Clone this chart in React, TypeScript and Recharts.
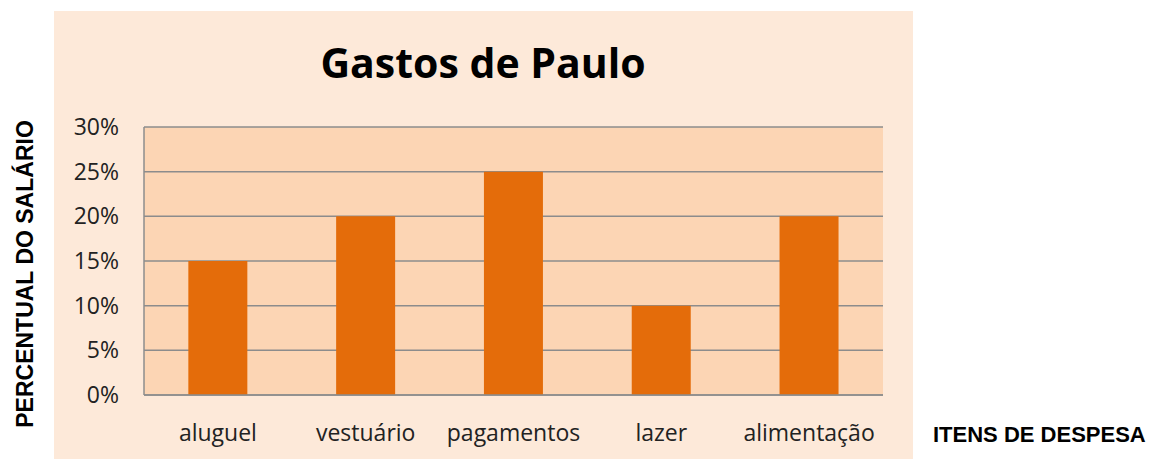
import { Bar, BarChart, CartesianGrid, XAxis, YAxis } from "recharts";

const categories = ["aluguel", "vestuário", "pagamentos", "lazer", "alimentação"];
const percentValues = [15, 20, 25, 10, 20];
const yTicks = [0, 5, 10, 15, 20, 25, 30];

const data = categories.map((item, i) => ({ item, value: percentValues[i] }));

const tickFont = "'Open Sans', sans-serif";

export default function App() {
  return (
    <div
      style={{
        position: "absolute",
        left: 0,
        top: 0,
        width: 1152,
        height: 459,
        background: "#fff",
      }}
    >
      {/* outer chart panel */}
      <div
        style={{
          position: "absolute",
          left: 54,
          top: 11,
          width: 859,
          height: 448,
          background: "#FDE9D9",
        }}
      />

      <div style={{ position: "absolute", left: 0, top: 0 }}>
        <BarChart
          width={1152}
          height={459}
          data={data}
          margin={{ top: 127, right: 269, bottom: 0, left: 0 }}
          barCategoryGap="30%"
        >
          <CartesianGrid
            vertical={false}
            stroke="#8C8C8C"
            strokeWidth={1.5}
            fill="#FCD5B4"
            fillOpacity={1}
          />
          <XAxis
            dataKey="item"
            height={64}
            axisLine={{ stroke: "#8C8C8C", strokeWidth: 1.5 }}
            tickLine={false}
            tickSize={6}
            tickMargin={24}
            tick={{ fill: "#222", fontSize: 23, fontFamily: tickFont }}
            interval={0}
          />
          <YAxis
            width={144}
            domain={[0, 30]}
            ticks={yTicks}
            tickFormatter={(v) => `${v}%`}
            axisLine={{ stroke: "#8C8C8C", strokeWidth: 1.5 }}
            tickLine={false}
            tickSize={6}
            tickMargin={19}
            tick={{ fill: "#222", fontSize: 23, fontFamily: tickFont }}
          />
          <Bar dataKey="value" fill="#E46C0A" isAnimationActive={false} />
        </BarChart>
      </div>

      {/* title and axis titles */}
      <svg
        width={1152}
        height={459}
        style={{ position: "absolute", left: 0, top: 0, pointerEvents: "none" }}
      >
        <text
          x={483}
          y={78}
          textAnchor="middle"
          fontFamily="'Open Sans', sans-serif"
          fontWeight={700}
          fontSize={41}
          fill="#000"
        >
          Gastos de Paulo
        </text>
        <text
          x={33}
          y={274}
          transform="rotate(-90 33 274)"
          textAnchor="middle"
          fontFamily="'Liberation Sans', Arial, sans-serif"
          fontWeight={700}
          fontSize={23}
          fill="#000"
        >
          PERCENTUAL DO SALÁRIO
        </text>
        <text
          x={933}
          y={442}
          fontFamily="'Liberation Sans', Arial, sans-serif"
          fontWeight={700}
          fontSize={22}
          fill="#000"
        >
          ITENS DE DESPESA
        </text>
      </svg>
    </div>
  );
}
